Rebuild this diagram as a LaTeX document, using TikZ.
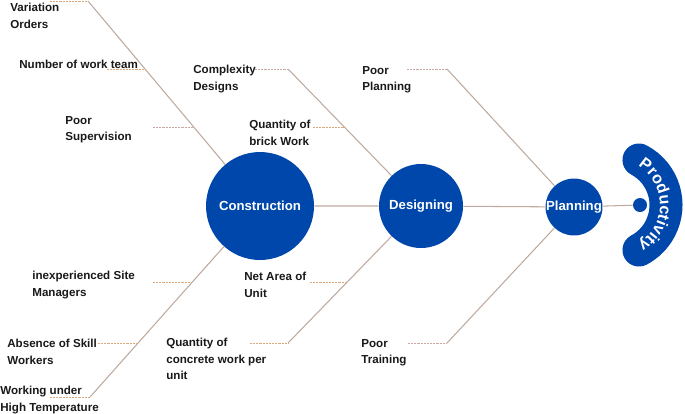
\documentclass[tikz,border=0pt]{standalone}
\usepackage{fontspec}
\setmainfont{Liberation Sans}
\usepackage{tikz}
\usetikzlibrary{positioning, calc, decorations.text}

\definecolor{cobalto}{RGB}{0,71,171}
\definecolor{osso}{RGB}{190,170,158}
\definecolor{ramolar}{RGB}{222,168,125}
\definecolor{ramocinza}{RGB}{200,168,160}

\begin{document}
\begin{tikzpicture}[x=0.02cm, y=0.02cm,
    causa/.style={fill=cobalto, circle, inner sep=0pt, text=white, font=\bfseries\fontsize{7.5}{9}\selectfont},
    fator/.style={anchor=north west, inner sep=0pt, align=left, text=black!90, font=\bfseries\fontsize{6.6}{9.3}\selectfont},
    espinha/.style={draw=osso, line width=0.6pt},
    ramo/.style={draw=ramolar, line width=0.5pt, dash pattern=on 1.2pt off 0.6pt},
    ramob/.style={ramo, draw=ramocinza}]
    \useasboundingbox (0,0) rectangle (685,-413);

    % causas principais
    \node[causa, minimum size=2.16cm] (constr) at (260,-206) {Construction};
    \node[causa, minimum size=1.68cm] (design) at (421,-206) {Designing};
    \node[causa, minimum size=1.08cm] (plan) at (574,-207) {Planning};
    \node[circle, fill=cobalto, inner sep=0pt, minimum size=0.28cm] (ponto) at (640,-205) {};

    % cabeca (Productivity)
    \draw[cobalto, line width=0.66cm, line cap=round] (615,-205) ++(62:51) arc[start angle=62, end angle=-62, radius=51];
    \path[decorate, decoration={text along path, text align=center,
        text={|\bfseries\fontsize{9.2}{9}\selectfont\color{white}|Productivity}}]
        (615,-205) ++(64:45) arc[start angle=64, end angle=-64, radius=45];

    % espinha central
    \draw[espinha] (constr) -- (design) (design) -- (plan) (plan) -- (ponto);

    % ossos
    \coordinate (Cs) at (88,-1);
    \coordinate (Ci) at (90,-397);
    \coordinate (Ds) at (288,-69);
    \coordinate (Di) at (288,-343);
    \coordinate (Ps) at (447,-69);
    \coordinate (Pi) at (447,-343);
    \draw[espinha] (Cs) -- (constr);
    \draw[espinha] (Ci) -- (constr);
    \draw[espinha] (Ds) -- (design);
    \draw[espinha] (Di) -- (design);
    \draw[espinha] (Ps) -- (plan);
    \draw[espinha] (Pi) -- (plan);

    % fatores
    \node[fator] (var) at (10,-3) {Variation\\Orders};
    \node[fator] (equipe) at (19,-60) {Number of work team};
    \node[fator] (superv) at (65,-116) {Poor\\Supervision};
    \node[fator] (complex) at (193,-65) {Complexity\\Designs};
    \node[fator] (tijolo) at (249,-120) {Quantity of\\brick Work};
    \node[fator] (pplan) at (362,-66) {Poor\\Planning};
    \node[fator] (gerente) at (32,-271) {inexperienced Site\\Managers};
    \node[fator] (area) at (244,-272) {Net Area of\\Unit};
    \node[fator] (habil) at (7,-339) {Absence of Skill\\Workers};
    \node[fator] (concreto) at (166,-338) {Quantity of\\concrete work per\\unit};
    \node[fator] (treino) at (361,-339) {Poor\\Training};
    \node[fator] (calor) at (0,-386) {Working under\\High Temperature};

    % ramos tracejados
    \coordinate (r1) at (50,-1);
    \coordinate (r2) at (107,-69);   \coordinate (b2) at (145.6,-69);
    \coordinate (r3) at (153,-127);  \coordinate (b3) at (194,-127);
    \coordinate (r4) at (255,-69);
    \coordinate (r5) at (313,-127);  \coordinate (b5) at (344.3,-127);
    \coordinate (r6) at (407,-69);
    \coordinate (r7) at (153,-282);  \coordinate (b7) at (192.4,-282);
    \coordinate (r8) at (310,-282);  \coordinate (b8) at (347.2,-282);
    \coordinate (r9) at (98,-343);   \coordinate (b9) at (138,-343);
    \coordinate (r10) at (250,-343);
    \coordinate (r11) at (408,-343);
    \coordinate (r12) at (50,-397);
    \draw[ramo] (r1) -- (Cs);
    \draw[ramo] (r2) -- (b2);
    \draw[ramob] (r3) -- (b3);
    \draw[ramob] (r4) -- (Ds);
    \draw[ramo] (r5) -- (b5);
    \draw[ramob] (r6) -- (Ps);
    \draw[ramo] (r7) -- (b7);
    \draw[ramo] (r8) -- (b8);
    \draw[ramo] (r9) -- (b9);
    \draw[ramo] (r10) -- (Di);
    \draw[ramob] (r11) -- (Pi);
    \draw[ramo] (r12) -- (Ci);

\end{tikzpicture}
\end{document}
